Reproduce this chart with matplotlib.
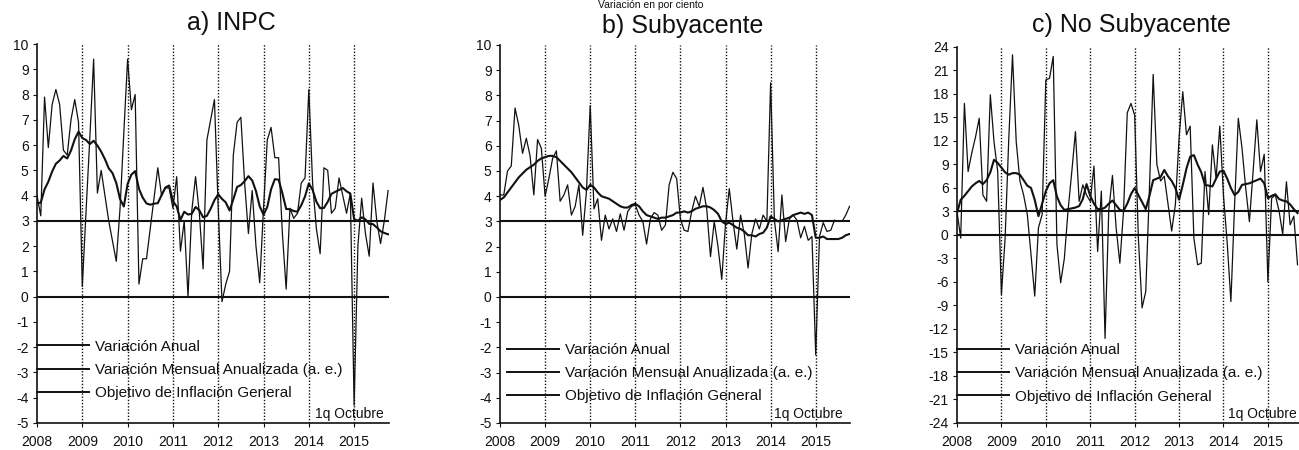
import numpy as np
import matplotlib
matplotlib.use("Agg")
import matplotlib.pyplot as plt

plt.rcParams['font.family'] = ['Liberation Sans', 'DejaVu Sans']
plt.rcParams['axes.unicode_minus'] = False

# ---------------- data (monthly, Jan 2008 onward) ----------------
years = [2008, 2009, 2010, 2011, 2012, 2013, 2014, 2015]

inpc_anual = [3.70, 3.72, 4.25, 4.55, 4.95, 5.26, 5.39, 5.57, 5.47, 5.78, 6.23, 6.53,
              6.28, 6.20, 6.04, 6.17, 5.98, 5.74, 5.44, 5.08, 4.89, 4.50, 3.86, 3.57,
              4.46, 4.83, 4.97, 4.27, 3.92, 3.69, 3.64, 3.68, 3.70, 4.02, 4.32, 4.40,
              3.78, 3.57, 3.04, 3.36, 3.25, 3.28, 3.55, 3.42, 3.14, 3.20, 3.48, 3.82,
              4.05, 3.87, 3.73, 3.41, 3.85, 4.34, 4.42, 4.57, 4.77, 4.60, 4.18, 3.57,
              3.25, 3.55, 4.25, 4.65, 4.63, 4.09, 3.47, 3.46, 3.39, 3.36, 3.62, 3.97,
              4.48, 4.23, 3.76, 3.50, 3.51, 3.75, 4.07, 4.15, 4.22, 4.30, 4.17, 4.08,
              3.07, 3.00, 3.14, 3.06, 2.88, 2.87, 2.74, 2.59, 2.52, 2.47]

inpc_mensual = [4.0, 3.2, 7.9, 5.9, 7.6, 8.2, 7.6, 5.8, 5.6, 7.0, 7.8, 6.9,
                0.4, 3.4, 6.3, 9.4, 4.1, 5.0, 4.0, 3.0, 2.2, 1.4, 3.5, 6.5,
                9.4, 7.4, 8.0, 0.5, 1.5, 1.5, 2.7, 3.9, 5.1, 4.0, 4.3, 4.3,
                3.5, 4.75, 1.8, 3.0, 0.0, 3.4, 4.75, 3.3, 1.1, 6.2, 7.0, 7.8,
                3.5, -0.2, 0.5, 1.0, 5.6, 6.9, 7.1, 4.5, 2.5, 4.2, 2.0, 0.55,
                3.5, 6.2, 6.7, 5.5, 5.5, 2.5, 0.3, 3.5, 3.1, 3.3, 4.5, 4.7,
                8.2, 4.5, 2.7, 1.7, 5.1, 5.0, 3.3, 3.5, 4.7, 4.0, 3.3, 4.1,
                -4.3, 2.0, 3.9, 2.5, 1.6, 4.5, 3.0, 2.1, 3.0, 4.2]

sub_anual = [3.85, 3.95, 4.15, 4.35, 4.55, 4.75, 4.90, 5.05, 5.15, 5.25, 5.40, 5.50,
             5.55, 5.60, 5.60, 5.55, 5.40, 5.25, 5.10, 4.95, 4.75, 4.55, 4.35, 4.25,
             4.45, 4.35, 4.15, 4.00, 3.95, 3.90, 3.80, 3.70, 3.60, 3.55, 3.55, 3.65,
             3.70, 3.60, 3.40, 3.25, 3.20, 3.15, 3.10, 3.15, 3.15, 3.20, 3.25, 3.35,
             3.35, 3.40, 3.35, 3.40, 3.50, 3.55, 3.60, 3.60, 3.55, 3.45, 3.30, 3.00,
             2.90, 2.95, 2.85, 2.75, 2.70, 2.60, 2.45, 2.45, 2.40, 2.50, 2.55, 2.75,
             3.20, 3.10, 3.00, 3.05, 3.10, 3.15, 3.25, 3.30, 3.35, 3.30, 3.35, 3.25,
             2.35, 2.35, 2.40, 2.30, 2.30, 2.30, 2.30, 2.35, 2.45, 2.50]

sub_mensual = [4.05, 4.05, 5.0, 5.2, 7.5, 6.8, 5.7, 6.3, 5.6, 4.05, 6.25, 5.9,
               4.0, 4.7, 5.5, 5.8, 3.8, 4.05, 4.45, 3.25, 3.6, 4.45, 2.45, 4.2,
               7.6, 3.5, 3.9, 2.25, 3.25, 2.7, 3.1, 2.6, 3.3, 2.65, 3.4, 3.6,
               3.65, 3.25, 3.0, 2.1, 3.1, 3.35, 3.25, 2.65, 2.85, 4.45, 4.95, 4.7,
               3.1, 2.65, 2.6, 3.4, 4.0, 3.6, 4.35, 3.5, 1.6, 3.0, 2.0, 0.7,
               2.9, 4.3, 3.0, 1.9, 3.25, 2.5, 1.15, 2.5, 3.1, 2.7, 3.25, 3.0,
               8.5, 3.05, 1.8, 4.05, 2.2, 3.1, 3.25, 3.05, 2.35, 2.8, 2.25, 2.4,
               -2.3, 2.4, 2.95, 2.6, 2.65, 3.05, 3.0, 3.0, 3.25, 3.6]

nosub_anual = [2.8, 4.5, 5.0, 5.6, 6.2, 6.6, 6.9, 6.5, 7.0, 8.0, 9.6, 9.2,
               8.6, 8.0, 7.7, 7.9, 7.9, 7.7, 7.0, 6.3, 6.0, 4.5, 2.4, 4.0,
               5.6, 6.6, 7.0, 4.9, 3.8, 3.2, 3.3, 3.4, 3.5, 3.7, 4.6, 6.5,
               5.0, 4.0, 3.3, 3.3, 3.5, 4.0, 4.4, 3.8, 3.2, 3.1, 4.0, 5.2,
               6.0, 5.1, 4.2, 3.3, 5.0, 7.0, 7.2, 7.4, 8.3, 7.5, 6.9, 6.0,
               4.5, 6.4, 8.5, 10.0, 10.2, 9.0, 8.0, 6.4, 6.3, 6.2, 7.2, 8.1,
               8.2, 7.2, 6.0, 5.1, 5.5, 6.4, 6.5, 6.6, 6.8, 7.0, 7.2, 6.6,
               4.7, 5.0, 5.2, 4.6, 4.4, 4.3, 3.9, 3.3, 2.8]

nosub_mensual = [3.0, -0.4, 16.8, 8.1, 10.5, 12.5, 14.9, 5.1, 4.3, 17.9, 11.9, 8.1,
                 -7.6, -0.4, 12.4, 23.0, 11.9, 6.9, 5.1, 2.6, -2.5, -7.8, 0.9, 2.6,
                 19.8, 20.0, 22.8, -1.2, -6.1, -3.0, 3.1, 8.0, 13.2, 4.3, 6.4, 5.1,
                 4.3, 8.8, -2.1, 5.6, -13.2, 3.1, 7.6, 0.9, -3.6, 3.1, 15.6, 16.8,
                 15.3, -0.4, -9.3, -7.2, 6.0, 20.5, 9.0, 6.9, 7.5, 4.0, 0.5, 3.9,
                 12.4, 18.3, 12.8, 13.9, -0.4, -3.8, -3.6, 8.1, 2.6, 11.5, 7.2, 13.9,
                 5.0, -1.0, -8.5, 3.9, 14.9, 11.1, 6.0, 1.7, 8.1, 14.7, 8.1, 10.3,
                 -6.0, 4.7, 5.1, 3.1, 0.1, 6.8, 1.3, 2.4, -3.8]

objetivo = 3.0

titles = ["a) INPC", "b) Subyacente", "c) No Subyacente"]
labels = ["Variación Anual", "Variación Mensual Anualizada (a. e.)",
          "Objetivo de Inflación General"]

# ---------------- figure ----------------
W, H = 1299, 450
fig = plt.figure(figsize=(W / 100, H / 100), dpi=100)
ink = "#111111"

def px_axes(left, top, right, bottom):
    return fig.add_axes([left / W, 1 - bottom / H, (right - left) / W, (bottom - top) / H])

panels = [
    dict(box=(37, 44, 389, 423), anual=inpc_anual, mensual=inpc_mensual,
         ylim=(-5, 10), yticks=np.arange(-5, 11, 1), xr=2015.77,
         leg=(0.0, 0.14), q=0.985, title_xy=(231, 23)),
    dict(box=(500, 45, 850, 423), anual=sub_anual, mensual=sub_mensual,
         ylim=(-5, 10), yticks=np.arange(-5, 11, 1), xr=2015.76,
         leg=(0.02, 0.132), q=0.978, title_xy=(683, 26)),
    dict(box=(957, 47, 1299, 423), anual=nosub_anual, mensual=nosub_mensual,
         ylim=(-24, 24), yticks=np.arange(-24, 25, 3), xr=2015.70,
         leg=(0.0, 0.132), q=0.994, title_xy=(1131, 25)),
]

for p, title in zip(panels, titles):
    ax = px_axes(*p["box"])
    xa = 2008 + np.arange(len(p["anual"])) / 12
    xm = 2008 + np.arange(len(p["mensual"])) / 12

    for yr in years[1:]:
        ax.axvline(yr, color=ink, lw=1.0, ls=(0, (1, 1.3)), zorder=1)
    ax.axhline(0, color=ink, lw=1.5, zorder=2)

    l1, = ax.plot(xa, p["anual"], color=ink, lw=1.5, zorder=4, label=labels[0])
    l2, = ax.plot(xm, p["mensual"], color=ink, lw=0.9, zorder=3, label=labels[1])
    l3 = ax.axhline(objetivo, color=ink, lw=1.5, zorder=2, label=labels[2])

    ax.set_xlim(2008, p["xr"])
    ax.set_ylim(*p["ylim"])
    ax.set_yticks(p["yticks"])
    ax.set_xticks(years)
    ax.set_xticklabels([str(y) for y in years])
    for s in ("top", "right"):
        ax.spines[s].set_visible(False)
    for s in ("left", "bottom"):
        ax.spines[s].set_color(ink)
        ax.spines[s].set_linewidth(1.2)
    ax.tick_params(axis="both", direction="out", length=3, width=0.8, color=ink,
                   labelsize=10, labelcolor=ink)
    ax.tick_params(axis="y", pad=3)
    ax.tick_params(axis="x", pad=6)

    leg = ax.legend(handles=[l1, l2, l3], loc="center left", bbox_to_anchor=p["leg"],
                    frameon=False, fontsize=11, handlelength=3.4, handletextpad=0.4,
                    labelspacing=0.6, borderpad=0, borderaxespad=0,
                    labelcolor=ink)
    for ln in leg.get_lines():
        ln.set_linewidth(1.4)

    ax.text(p["q"], 0.004, "1q Octubre", transform=ax.transAxes, ha="right",
            va="bottom", fontsize=10, color=ink)

    fig.text(p["title_xy"][0] / W, 1 - p["title_xy"][1] / H, title, ha="center",
             va="center", fontsize=18, color=ink)

fig.text(651 / W, 1.0, "Variación en por ciento", ha="center",
         va="top", fontsize=7.5, color=ink)

fig.savefig("out.png", dpi=100, facecolor="white")
